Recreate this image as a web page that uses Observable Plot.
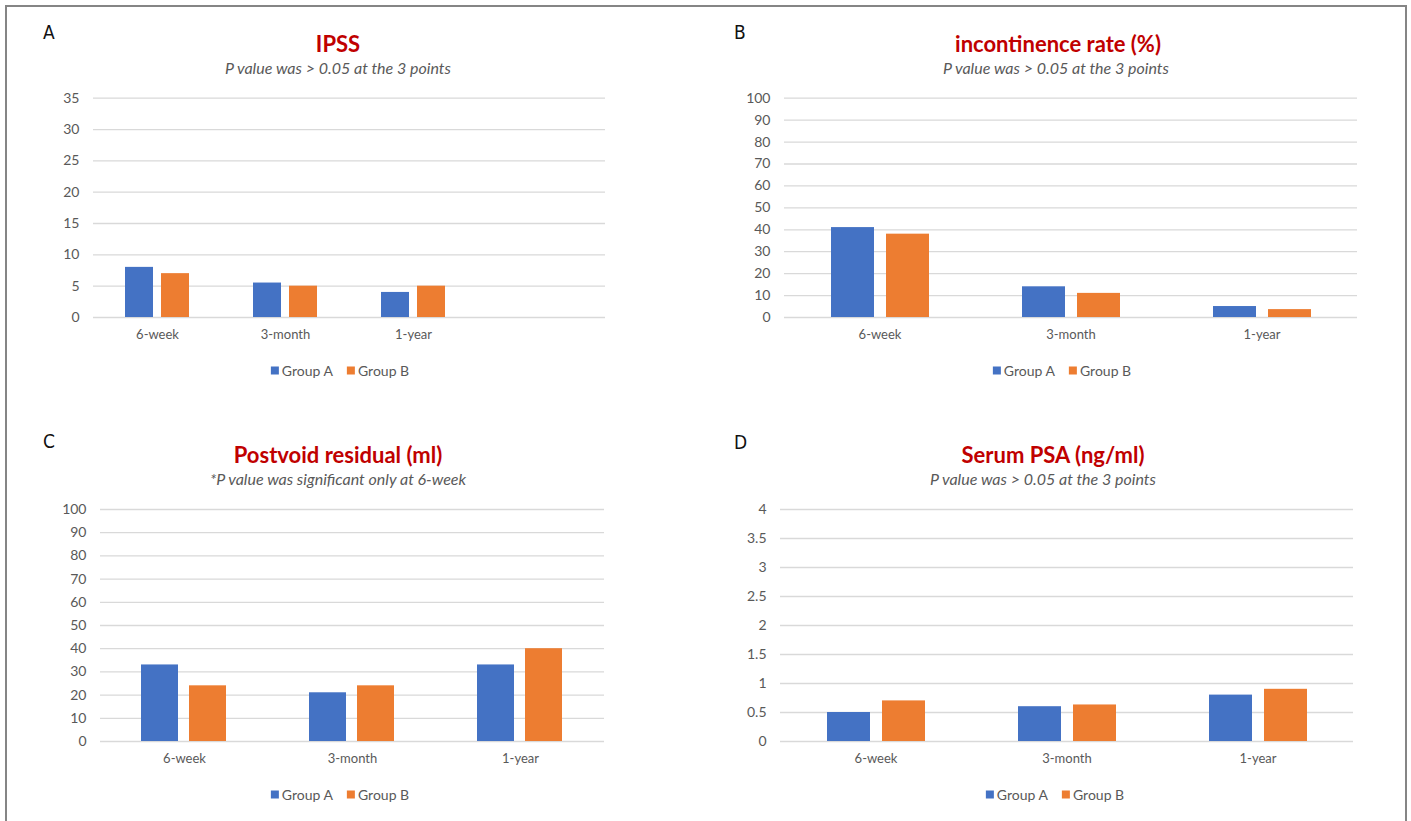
<!DOCTYPE html>
<html>
<head>
<meta charset="utf-8">
<script src="https://cdn.jsdelivr.net/npm/d3@7"></script>
<script src="https://cdn.jsdelivr.net/npm/@observablehq/plot@0.6"></script>
<style>
  html, body { margin: 0; padding: 0; background: #fff; }
  #page { position: relative; width: 1411px; height: 821px; overflow: hidden; background: #fff; font-family: Lato, "Open Sans", sans-serif; }
  #frame { position: absolute; left: 5px; top: 5px; width: 1402px; height: 840px; border: 2px solid #858585; box-sizing: border-box; }
  .abs { position: absolute; white-space: nowrap; transform: translate(-50%, -50%); }
  .letter { position: absolute; white-space: nowrap; transform: translate(0, -50%); font-family: "Liberation Sans Narrow", "DejaVu Sans Condensed", "Arial Narrow", sans-serif; font-stretch: condensed; font-size: 19px; color: #111; }
  .title { font-family: Lato, sans-serif; font-weight: 700; font-size: 22px; color: #C00000; }
  .subtitle { font-family: Lato, sans-serif; font-style: italic; font-size: 16px; color: #595959; }
  .legend { display: flex; align-items: center; font-family: Lato, sans-serif; font-size: 14px; color: #595959; }
  .legend .item { display: flex; align-items: center; }
  .legend .item + .item { margin-left: 14px; }
  .legend .sw { width: 8px; height: 8px; margin-right: 3px; }
  .panel { position: absolute; }
  .panel g[aria-label="fx-axis tick label"] text, .panel g[aria-label="fx-axis"] text { font-size: 13px; }
</style>
</head>
<body>
<div id="page"><div id="frame"></div></div>
<script>
// ---- data ----
const groups = ["Group A", "Group B"];
const groupColors = ["#4472C4", "#ED7D31"];

// Panel A: IPSS (Excel chart has an empty 4th category slot)
const ipssCategories = ["6-week", "3-month", "1-year", ""];
const ipssGroupA = [8, 5.5, 4, null];
const ipssGroupB = [7, 5, 5, null];
const ipssTicks = [0, 5, 10, 15, 20, 25, 30, 35];

// Panel B: incontinence rate (%)
const incCategories = ["6-week", "3-month", "1-year"];
const incGroupA = [41, 14, 5];
const incGroupB = [38, 11, 3.6];
const incTicks = [0, 10, 20, 30, 40, 50, 60, 70, 80, 90, 100];

// Panel C: postvoid residual (ml)
const pvrCategories = ["6-week", "3-month", "1-year"];
const pvrGroupA = [33, 21, 33];
const pvrGroupB = [24, 24, 40];
const pvrTicks = [0, 10, 20, 30, 40, 50, 60, 70, 80, 90, 100];

// Panel D: serum PSA (ng/ml)
const psaCategories = ["6-week", "3-month", "1-year"];
const psaGroupA = [0.5, 0.6, 0.8];
const psaGroupB = [0.7, 0.63, 0.9];
const psaTicks = [0, 0.5, 1, 1.5, 2, 2.5, 3, 3.5, 4];

const panelLetters = ["A", "B", "C", "D"];
const panelTitles = ["IPSS", "incontinence rate (%)", "Postvoid residual (ml)", "Serum PSA (ng/ml)"];
const panelSubtitles = [
  "P value was > 0.05 at the 3 points",
  "P value was > 0.05 at the 3 points",
  "*P value was significant only at 6-week",
  "P value was > 0.05 at the 3 points"
];

// ---- helpers ----
function makeRows(cats, a, b) {
  const rows = [];
  cats.forEach((c, i) => {
    rows.push({cat: c, group: groups[0], value: a[i]});
    rows.push({cat: c, group: groups[1], value: b[i]});
  });
  return rows;
}

const page = document.getElementById("page");

function addText(cls, text, x, y) {
  const d = document.createElement("div");
  d.className = cls;
  d.textContent = text;
  d.style.left = x + "px";
  d.style.top = y + "px";
  page.appendChild(d);
}

function addLegend(cx, cy) {
  const d = document.createElement("div");
  d.className = "legend abs";
  d.style.left = cx + "px";
  d.style.top = cy + "px";
  groups.forEach((g, i) => {
    const it = document.createElement("div");
    it.className = "item";
    const sw = document.createElement("div");
    sw.className = "sw";
    sw.style.background = groupColors[i];
    const t = document.createElement("span");
    t.textContent = g;
    it.appendChild(sw); it.appendChild(t);
    d.appendChild(it);
  });
  page.appendChild(d);
}

function addPanel(cfg) {
  const rows = makeRows(cfg.cats, cfg.a, cfg.b);
  const gridTicks = cfg.ticks.map(v => ({v}));
  const chart = Plot.plot({
    width: cfg.width,
    height: cfg.height,
    marginLeft: cfg.ml,
    marginRight: cfg.mr,
    marginTop: cfg.mt,
    marginBottom: cfg.mb,
    style: {fontFamily: "Lato, sans-serif", fontSize: "14px", color: "#595959", background: "transparent", overflow: "visible"},
    facet: {data: rows, x: "cat"},
    fx: {domain: cfg.cats, padding: 0, label: null, axis: "bottom", tickSize: 0, tickPadding: 12},
    x: {domain: groups, axis: null, paddingInner: 0.22, paddingOuter: 0.845},
    y: {domain: [cfg.ticks[0], cfg.ticks[cfg.ticks.length - 1]], ticks: cfg.ticks, tickFormat: d => String(d), label: null, tickSize: 0, tickPadding: 14},
    color: {domain: groups, range: groupColors},
    marks: [
      Plot.ruleY(gridTicks, {y: "v", stroke: "#d9d9d9", strokeWidth: 1.3, facet: null}),
      Plot.barY(rows, {x: "group", y: "value", fill: "group"})
    ]
  });
  chart.classList.add("panel");
  chart.style.left = cfg.left + "px";
  chart.style.top = cfg.top + "px";
  // category labels slightly smaller than tick labels
  chart.querySelectorAll('g[aria-label^="fx-axis"] text').forEach(t => t.setAttribute("font-size", "13"));
  page.appendChild(chart);
}

// ---- panels ----
addPanel({cats: ipssCategories, a: ipssGroupA, b: ipssGroupB, ticks: ipssTicks,
  left: 20, top: 80, width: 620, height: 280, ml: 72, mr: 35, mt: 17.7, mb: 43});
addPanel({cats: incCategories, a: incGroupA, b: incGroupB, ticks: incTicks,
  left: 710, top: 80, width: 680, height: 280, ml: 73, mr: 33, mt: 17.7, mb: 43});
addPanel({cats: pvrCategories, a: pvrGroupA, b: pvrGroupB, ticks: pvrTicks,
  left: 20, top: 490, width: 620, height: 280, ml: 79, mr: 35, mt: 19, mb: 29});
addPanel({cats: psaCategories, a: psaGroupA, b: psaGroupB, ticks: psaTicks,
  left: 710, top: 490, width: 680, height: 280, ml: 69, mr: 37, mt: 19, mb: 29});

// ---- texts ----
const letterPos = [[43, 32], [734, 32], [43, 441], [734, 442]];
const titlePos = [[338, 43], [1058, 43], [338, 454], [1053, 454]];
const subPos = [[338, 67], [1056, 67], [338, 478], [1043, 478]];
const legendPos = [[340, 370], [1062, 370], [340, 794], [1055, 794]];
for (let i = 0; i < 4; i++) {
  addText("letter", panelLetters[i], letterPos[i][0], letterPos[i][1]);
  addText("abs title", panelTitles[i], titlePos[i][0], titlePos[i][1]);
  addText("abs subtitle", panelSubtitles[i], subPos[i][0], subPos[i][1]);
  addLegend(legendPos[i][0], legendPos[i][1]);
}
</script>
</body>
</html>
